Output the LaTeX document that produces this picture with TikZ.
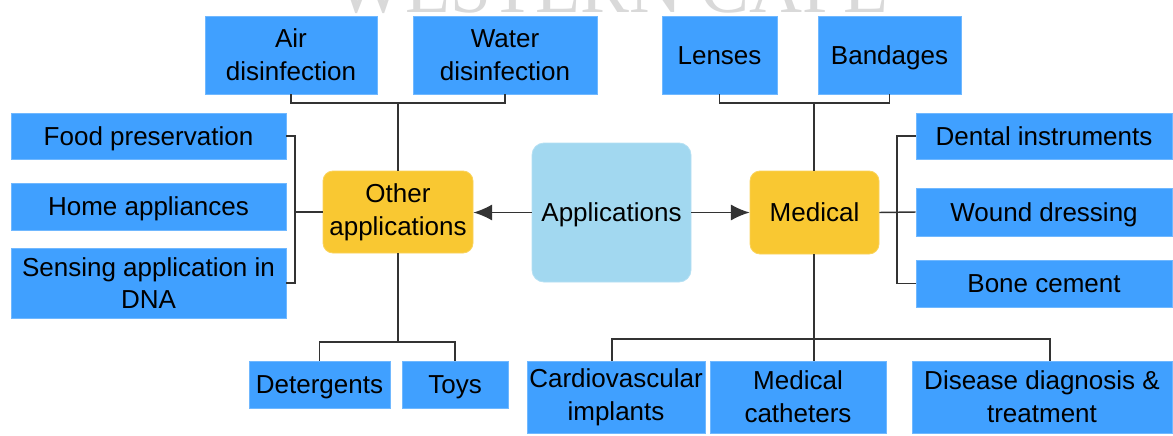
\documentclass[tikz,border=0pt]{standalone}
\usepackage{fontspec}
\setmainfont{Liberation Sans}
\newfontfamily\wmfont{Liberation Serif}
\usetikzlibrary{positioning,calc,arrows.meta}

\definecolor{leafblue}{RGB}{64,160,255}
\definecolor{hubyellow}{RGB}{249,200,50}
\definecolor{rootcyan}{RGB}{162,216,240}
\definecolor{linegray}{RGB}{51,51,51}

\tikzset{
  sz/.style 2 args={minimum width=#1*0.75pt, minimum height=#2*0.75pt},
  box/.style={inner sep=0pt, align=center, font=\fontsize{19.5}{24.5}\selectfont},
  one/.style={text height=14pt, text depth=0pt},
  leaf/.style={box, fill=leafblue, draw=leafblue!75!white, line width=0.6pt},
  hub/.style={box, fill=hubyellow, draw=hubyellow!80!white, line width=0.6pt, rounded corners=7.5pt},
  root/.style={box, fill=rootcyan, draw=rootcyan!80!white, line width=0.6pt, rounded corners=9pt},
  link/.style={draw=linegray, line width=1.1pt},
  tip/.style={-{Latex[length=14pt,width=12pt]}},
}

\begin{document}
\begin{tikzpicture}[x=0.75pt,y=-0.75pt]
  \clip (0,0) rectangle (1173,435);
  \fill[white] (0,0) rectangle (1173,435);

  % watermark, cut by the top edge
  \node[anchor=base, text=black!15, font=\wmfont\fontsize{55}{60}\selectfont] (mark) at (612,13) {WESTERN CAPE};

  % centre
  \node[root, one, sz={159}{139}] (apps) at (611.5,212.5) {Applications};
  \node[hub, sz={150}{82}] (other) at (398,212) {Other\\applications};
  \node[hub, one, sz={129}{83}] (medical) at (814.5,212.5) {Medical};

  % other applications
  \node[leaf, sz={172}{78}] (air) at (291,55) {Air\\disinfection};
  \node[leaf, sz={184}{78}] (water) at (505,55) {Water\\disinfection};
  \node[leaf, one, sz={275}{46}] (food) at (148.5,136) {Food preservation};
  \node[leaf, one, sz={275}{47}] (home) at (148.5,206.5) {Home appliances};
  \node[leaf, sz={275}{70}] (sensing) at (148.5,283) {Sensing application in\\DNA};
  \node[leaf, one, sz={141}{47}] (deterg) at (319.5,384.5) {Detergents};
  \node[leaf, one, sz={106}{47}] (toys) at (455,384.5) {Toys};

  % medical
  \node[leaf, one, sz={115}{78}] (lenses) at (719.5,55) {Lenses};
  \node[leaf, one, sz={143}{78}] (bandages) at (889.5,55) {Bandages};
  \node[leaf, one, sz={256}{46}] (dental) at (1044,136) {Dental instruments};
  \node[leaf, one, sz={256}{48}] (wound) at (1044,212) {Wound dressing};
  \node[leaf, one, sz={256}{47}] (bone) at (1044,283.5) {Bone cement};
  \node[leaf, sz={178}{72}] (cardio) at (616,397) {Cardiovascular\\implants};
  \node[leaf, sz={176}{72}] (cath) at (798,397) {Medical\\catheters};
  \node[leaf, sz={260}{72}] (disease) at (1042,397) {Disease diagnosis \&\\treatment};

  \coordinate (topL) at (398,103);
  \coordinate (topR) at (814,103);
  \coordinate (brL) at (295,212);
  \coordinate (brR) at (897,212);
  \coordinate (botL) at (398,342);
  \coordinate (botR) at (814,339);

  \draw[link,tip] (apps.west) -- (apps.west -| other.east);
  \draw[link,tip] (apps.east) -- (medical.west);

  \draw[link] (air.south) |- (topL) -| (water.south);
  \draw[link] (topL) -- (other.north);
  \draw[link] (food.east) -| (brL) |- (sensing.east);
  \draw[link] (brL) -- (brL -| other.west);
  \draw[link] (other.south) -- (botL);
  \draw[link] (deterg.north) |- (botL) -| (toys.north);

  \draw[link] (lenses.south) |- (topR) -| (bandages.south);
  \draw[link] (topR) -- (topR |- medical.north);
  \draw[link] (medical.east) -- (wound.west);
  \draw[link] (dental.west) -| (brR) |- (bone.west);
  \draw[link] (botR |- medical.south) -- (botR |- cath.north);
  \draw[link] ([xshift=-3pt]cardio.north) |- (botR) -| ([xshift=6pt]disease.north);
\end{tikzpicture}
\end{document}
